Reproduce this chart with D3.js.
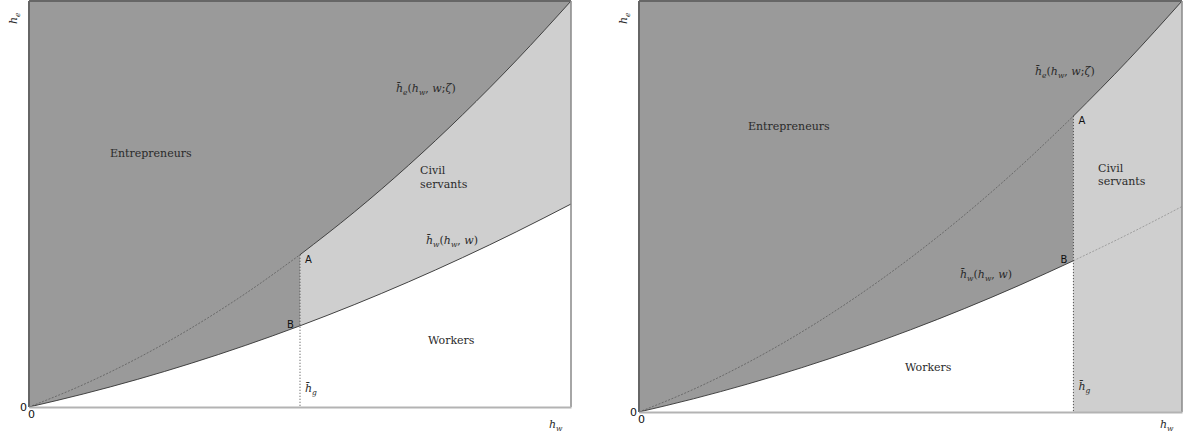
<!DOCTYPE html>
<html>
<head>
<meta charset="utf-8">
<script src="https://cdn.jsdelivr.net/npm/d3@7"></script>
<style>
  body { margin: 0; background: #fff; }
  svg { display: block; }
</style>
</head>
<body>
<script>
// curve samples (h_w on the x axis, h_e on the y axis, both 0..10)
let hwGrid = [0, 1, 2, 3, 4, 5, 6, 7, 8, 9, 10];
let heUpper = [0, 0.55, 1.2, 1.95, 2.8, 3.75, 4.8, 5.95, 7.2, 8.55, 10];   // h̄e(hw, w; ζ)
let heLower = [0, 0.32, 0.68, 1.08, 1.52, 2.0, 2.52, 3.08, 3.68, 4.32, 5.0]; // h̄w(hw, w)

// threshold h̄g for each panel
let hgValues = [5, 8];

let width = 1184;
let height = 434;

let serif = "'DejaVu Serif', 'Liberation Serif', serif";
let sans = "'DejaVu Sans', 'Liberation Sans', sans-serif";

let svg = d3.select("body").append("svg").attr("width", width).attr("height", height);

let dark = "#9a9a9a";
let light = "#cfcfcf";

// the two panels
let panels = [
  {x0: 29, x1: 571, top: 1, bottom: 407, hg: hgValues[0], mode: "left"},
  {x0: 639, x1: 1182, top: 1, bottom: 412, hg: hgValues[1], mode: "right"}
];

let pts = hwGrid.map((h, i) => ({hw: h, up: heUpper[i], lo: heLower[i]}));

function txt(parent, xp, yp, size) {
  return parent.append("text").attr("x", xp).attr("y", yp)
    .attr("font-family", serif).attr("font-size", size || 11).attr("fill", "#2a2a2a");
}

// a label made of pieces: [text, italic?, subscript?]
function mathLabel(parent, xp, yp, parts) {
  let t = txt(parent, xp, yp);
  let down = false;
  parts.forEach((p) => {
    let s = t.append("tspan").text(p[0]).attr("font-style", p[1] ? "italic" : "normal");
    if (p[2] && !down) { s.attr("dy", 3).attr("font-size", 7.5); down = true; }
    else if (p[2]) { s.attr("font-size", 7.5); }
    else if (down) { s.attr("dy", -3); down = false; }
  });
  return t;
}

panels.forEach((p) => {
  let x = d3.scaleLinear().domain([0, 10]).range([p.x0, p.x1]);
  let y = d3.scaleLinear().domain([0, 10]).range([p.bottom, p.top]);
  let g = svg.append("g");

  let line = (key) => d3.line().x((d) => x(d.hw)).y((d) => y(d[key])).curve(d3.curveMonotoneX);
  let left = pts.filter((d) => d.hw <= p.hg);
  let right = pts.filter((d) => d.hw >= p.hg);
  let hgPt = pts.find((d) => d.hw === p.hg);

  // whole area is entrepreneurs first
  g.append("rect").attr("x", p.x0).attr("y", p.top)
    .attr("width", p.x1 - p.x0).attr("height", p.bottom - p.top).attr("fill", dark);

  if (p.mode === "left") {
    // civil servants between the curves right of h̄g
    g.append("path").attr("fill", light)
      .attr("d", d3.area().x((d) => x(d.hw)).y0((d) => y(d.lo)).y1((d) => y(d.up)).curve(d3.curveMonotoneX)(right));
    // workers below the lower curve
    g.append("path").attr("fill", "#fff")
      .attr("d", d3.area().x((d) => x(d.hw)).y0(p.bottom).y1((d) => y(d.lo)).curve(d3.curveMonotoneX)(pts));
  } else {
    g.append("path").attr("fill", light)
      .attr("d", d3.area().x((d) => x(d.hw)).y0(p.bottom).y1((d) => y(d.up)).curve(d3.curveMonotoneX)(right));
    g.append("path").attr("fill", "#fff")
      .attr("d", d3.area().x((d) => x(d.hw)).y0(p.bottom).y1((d) => y(d.lo)).curve(d3.curveMonotoneX)(left));
  }

  // upper curve: dashed left of h̄g, solid right of it
  g.append("path").attr("fill", "none").attr("stroke", "#555").attr("stroke-width", 0.7)
    .attr("stroke-dasharray", "2,1.5").attr("d", line("up")(left));
  g.append("path").attr("fill", "none").attr("stroke", "#333").attr("stroke-width", 0.9)
    .attr("d", line("up")(right));

  // lower curve
  if (p.mode === "left") {
    g.append("path").attr("fill", "none").attr("stroke", "#333").attr("stroke-width", 0.9)
      .attr("d", line("lo")(pts));
  } else {
    g.append("path").attr("fill", "none").attr("stroke", "#333").attr("stroke-width", 0.9)
      .attr("d", line("lo")(left));
    g.append("path").attr("fill", "none").attr("stroke", "#888").attr("stroke-width", 0.7)
      .attr("stroke-dasharray", "2,1.5").attr("d", line("lo")(right));
  }

  // dotted h̄g line from A down to the axis
  g.append("line").attr("x1", x(p.hg)).attr("x2", x(p.hg))
    .attr("y1", y(hgPt.up)).attr("y2", p.bottom)
    .attr("stroke", "#444").attr("stroke-width", 1).attr("stroke-dasharray", "1,2");

  // frame
  g.append("line").attr("x1", p.x0).attr("x2", p.x1).attr("y1", p.top).attr("y2", p.top)
    .attr("stroke", "#666").attr("stroke-width", 2);
  g.append("line").attr("x1", p.x0).attr("x2", p.x0).attr("y1", p.top).attr("y2", p.bottom)
    .attr("stroke", "#666").attr("stroke-width", 2);
  g.append("line").attr("x1", p.x1).attr("x2", p.x1).attr("y1", p.top).attr("y2", p.bottom)
    .attr("stroke", "#888").attr("stroke-width", 1.5);

  // axes with just the 0 tick
  let xAxis = g.append("g")
    .attr("transform", "translate(0," + p.bottom + ")")
    .call(d3.axisBottom(x).tickValues([0]).tickSize(0).tickPadding(3));
  xAxis.select(".domain").attr("stroke", "#b3b3b3").attr("stroke-width", 2);
  xAxis.selectAll("text").attr("dx", 2).attr("font-family", sans).attr("font-size", 11).attr("fill", "#111");
  let yAxis = g.append("g")
    .attr("transform", "translate(" + p.x0 + ",0)")
    .call(d3.axisLeft(y).tickValues([0]).tickSize(0).tickPadding(2));
  yAxis.select(".domain").remove();
  yAxis.selectAll("text").attr("font-family", sans).attr("font-size", 11).attr("fill", "#111");

  // A and B
  let ax = x(p.hg);
  g.append("text").attr("font-family", sans).attr("font-size", 10).attr("fill", "#111")
    .attr("x", ax + 5).attr("y", y(hgPt.up) + 8).text("A");
  g.append("text").attr("font-family", sans).attr("font-size", 10).attr("fill", "#111")
    .attr("x", ax - 13).attr("y", y(hgPt.lo) + 2).text("B");

  // axis titles
  mathLabel(g, p.x1 - 22, 428, [["h", true], ["w", true, true]]);
  let yt = txt(g, 0, 0).attr("x", null).attr("y", null)
    .attr("transform", "translate(" + (p.x0 - 12) + ",24) rotate(-90)");
  yt.append("tspan").attr("font-style", "italic").text("h");
  yt.append("tspan").attr("font-style", "italic").attr("dy", 3).attr("font-size", 7.5).text("e");

  // h̄g label
  mathLabel(g, ax + 5, p.mode === "left" ? 392 : 390, [["h\u0304", true], ["g", true, true]]);
});

// region and curve labels
let heParts = [["h\u0304", true], ["e", true, true], ["(", false], ["h", true], ["w", true, true],
  [", ", false], ["w", true], [";", false], ["\u03B6", true], [")", false]];
let hwParts = [["h\u0304", true], ["w", true, true], ["(", false], ["h", true], ["w", true, true],
  [", ", false], ["w", true], [")", false]];

txt(svg, 110, 157).text("Entrepreneurs");
txt(svg, 420, 174).text("Civil");
txt(svg, 420, 188).text("servants");
txt(svg, 428, 344).text("Workers");
mathLabel(svg, 396, 92, heParts);
mathLabel(svg, 426, 244, hwParts);

txt(svg, 748, 130).text("Entrepreneurs");
txt(svg, 1098, 172).text("Civil");
txt(svg, 1098, 185).text("servants");
txt(svg, 905, 371).text("Workers");
mathLabel(svg, 1035, 75, heParts);
mathLabel(svg, 960, 278, hwParts);
</script>
</body>
</html>
